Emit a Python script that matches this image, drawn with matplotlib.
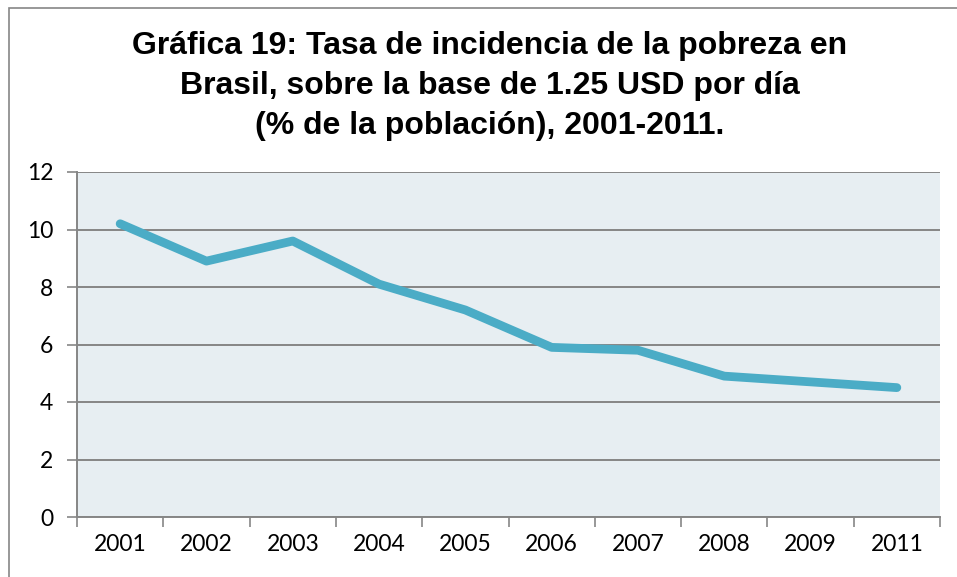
import matplotlib.pyplot as plt
from matplotlib.patches import Rectangle

# datos
years = ['2001', '2002', '2003', '2004', '2005', '2006', '2007', '2008', '2009', '2011']
tasa = [10.2, 8.9, 9.6, 8.1, 7.2, 5.9, 5.8, 4.9, 4.7, 4.5]
yticks = [0, 2, 4, 6, 8, 10, 12]

fig = plt.figure(figsize=(9.57, 5.77), dpi=100)
ax = fig.add_axes([77/957, 1-517/577, (940-77)/957, (517-172)/577])

x = range(len(years))
ax.plot(x, tasa, color='#4BACC6', lw=6.3, solid_capstyle='round', solid_joinstyle='round', zorder=3)

ax.set_facecolor('#E7EEF2')
ax.set_xlim(-0.5, len(years)-0.5)
ax.set_ylim(0, 12)
ax.set_yticks(yticks)
ax.set_xticks([i-0.5 for i in range(len(years)+1)], minor=False)
ax.set_xticklabels([])
ax.set_xticks(list(x), minor=True)
ax.set_xticklabels(years, minor=True, fontsize=16.5, fontfamily='Lato')
ax.tick_params(axis='x', which='minor', length=0, pad=12)
ax.tick_params(axis='x', which='major', length=7, color='#868686', width=1.2, direction='out')
ax.tick_params(axis='y', length=7, color='#868686', width=1.2, direction='out', pad=10)
for lab in ax.get_yticklabels():
    lab.set_fontsize(16.5)
    lab.set_fontfamily('Lato')
ax.grid(axis='y', color='#868686', lw=1.4)
ax.set_axisbelow(True)
for s in ['top', 'right']:
    ax.spines[s].set_visible(False)
for s in ['left', 'bottom']:
    ax.spines[s].set_color('#868686')
    ax.spines[s].set_linewidth(1.4)

# marco exterior
fig.patches.append(Rectangle((9/957, -0.1), 1.1, 1-8/577+0.1, transform=fig.transFigure,
                             fill=False, edgecolor='#868686', lw=1.2))

titulo = ['Gráfica 19: Tasa de incidencia de la pobreza en',
          'Brasil, sobre la base de 1.25 USD por día',
          '(% de la población), 2001-2011.']
for i, t in enumerate(titulo):
    fig.text(0.5 + 11/957, 1 - (46 + 40*i)/577, t, ha='center', va='center',
             fontsize=23, fontweight='bold', fontfamily='Liberation Sans')

fig.savefig('out.png', dpi=100)
